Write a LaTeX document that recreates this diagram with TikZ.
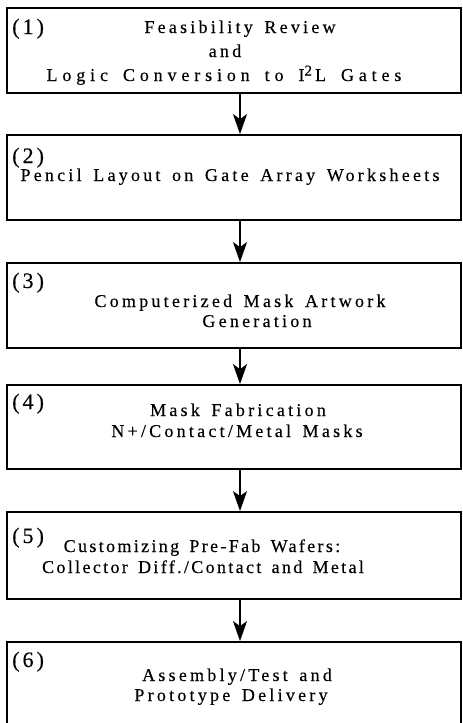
\documentclass[tikz,border=0pt]{standalone}
\usepackage{fontspec}
\setmainfont{Liberation Serif}
\newfontfamily\stagefont[LetterSpace=18,WordSpace=1.5,FakeBold=0.3]{Liberation Serif}
\newfontfamily\stagefontwide[LetterSpace=27,WordSpace=1.6,FakeBold=0.3]{Liberation Serif}
\newfontfamily\stagefontnarrow[LetterSpace=13,WordSpace=1.5,FakeBold=0.3]{Liberation Serif}
\newfontfamily\numfont[LetterSpace=14,FakeBold=0.3]{Liberation Serif}
\usetikzlibrary{arrows.meta}
\begin{document}
\begin{tikzpicture}[x=1pt,y=-1pt,
  stagebox/.style={draw, line width=1.8pt, minimum width=454pt, inner sep=0pt},
  stagetext/.style={font=\stagefont\fontsize{18}{21}\selectfont, inner sep=0pt, anchor=base},
  widetext/.style={stagetext, font=\stagefontwide\fontsize{18}{21}\selectfont},
  narrowtext/.style={stagetext, font=\stagefontnarrow\fontsize{18}{21}\selectfont},
  numlabel/.style={font=\numfont\fontsize{22}{22}\selectfont, inner sep=0pt, anchor=base west},
  flow/.style={line width=2pt, -{Stealth[length=20pt,width=14pt,inset=5pt]}}]
\clip (0,0) rectangle (463,723);
% boxes
\node[stagebox, minimum height=85pt] (b1) at (234,50.5) {};
\node[stagebox, minimum height=85pt] (b2) at (234,177.5) {};
\node[stagebox, minimum height=85pt] (b3) at (234,305.5) {};
\node[stagebox, minimum height=84pt] (b4) at (234,427) {};
\node[stagebox, minimum height=87pt] (b5) at (234,555.5) {};
\node[stagebox, minimum height=120pt] (b6) at (234,702) {};
% number labels
\node[numlabel] (n1) at (12,34) {(1)};
\node[numlabel] (n2) at (12,163) {(2)};
\node[numlabel] (n3) at (12,288) {(3)};
\node[numlabel] (n4) at (12,409) {(4)};
\node[numlabel] (n5) at (12,543) {(5)};
\node[numlabel] (n6) at (12,667) {(6)};
% texts
\node[stagetext] (t1a) at (240,33) {Feasibility Review};
\node[stagetext] (t1b) at (225,57) {and};
\node[widetext] (t1c) at (224,81) {Logic Conversion to I\raisebox{5.5pt}{\fontsize{15}{15}\selectfont 2}\,L Gates};
\node[stagetext] (t2a) at (230,181) {Pencil Layout on Gate Array Worksheets};
\node[stagetext] (t3a) at (240,307) {Computerized Mask Artwork};
\node[stagetext] (t3b) at (257,327) {Generation};
\node[stagetext] (t4a) at (238,416) {Mask Fabrication};
\node[stagetext] (t4b) at (237,437) {N+/Contact/Metal Masks};
\node[narrowtext] (t5a) at (202,552) {Customizing Pre-Fab Wafers:};
\node[narrowtext] (t5b) at (203,573) {Collector Diff./Contact and Metal};
\node[stagetext] (t6a) at (237,681) {Assembly/Test and};
\node[stagetext] (t6b) at (231,701) {Prototype Delivery};
% arrows
\draw[flow] ([xshift=6pt]b1.south) -- ([xshift=6pt]b2.north);
\draw[flow] ([xshift=6pt]b2.south) -- ([xshift=6pt]b3.north);
\draw[flow] ([xshift=6pt]b3.south) -- ([xshift=6pt]b4.north);
\draw[flow] ([xshift=6pt]b4.south) -- ([xshift=6pt]b5.north);
\draw[flow] ([xshift=6pt]b5.south) -- ([xshift=6pt]b6.north);
\end{tikzpicture}
\end{document}
